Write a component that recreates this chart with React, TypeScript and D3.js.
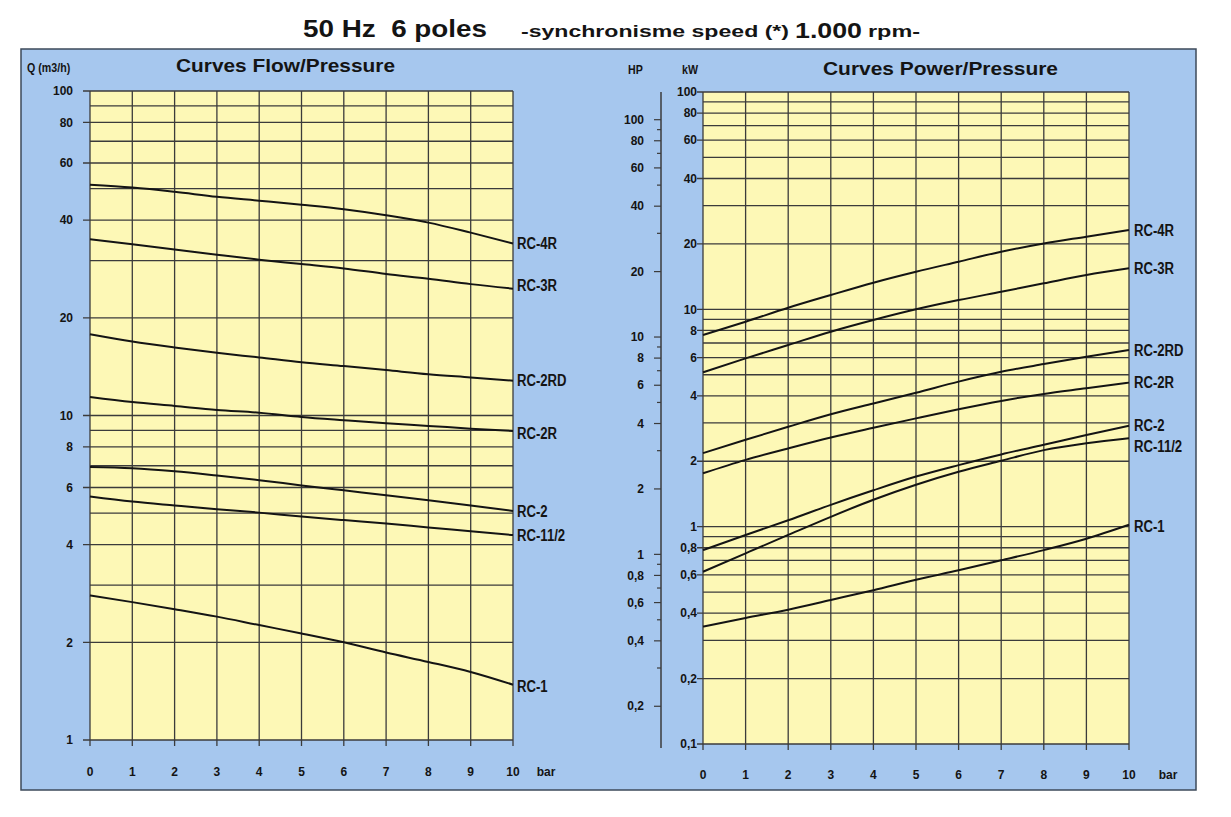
import React from "react";
import * as d3 from "d3";

// ---------- data ----------
const pressureBar = [0, 1, 2, 3, 4, 5, 6, 7, 8, 9, 10];
const seriesNames = ["RC-4R", "RC-3R", "RC-2RD", "RC-2R", "RC-2", "RC-11/2", "RC-1"];

// Flow Q (m3/h) vs pressure (bar)
const flowRC4R = [51.4, 50.4, 48.9, 47.2, 45.9, 44.6, 43.2, 41.4, 39.3, 36.6, 33.9];
const flowRC3R = [34.9, 33.7, 32.5, 31.3, 30.2, 29.3, 28.4, 27.3, 26.4, 25.4, 24.6];
const flowRC2RD = [17.8, 16.9, 16.2, 15.6, 15.1, 14.6, 14.2, 13.8, 13.4, 13.1, 12.8];
const flowRC2R = [11.4, 11.0, 10.7, 10.4, 10.2, 9.9, 9.67, 9.46, 9.29, 9.11, 8.96];
const flowRC2 = [6.94, 6.88, 6.73, 6.53, 6.32, 6.09, 5.88, 5.68, 5.48, 5.28, 5.08];
const flowRC112 = [5.63, 5.43, 5.28, 5.14, 5.02, 4.88, 4.76, 4.65, 4.52, 4.4, 4.28];
const flowRC1 = [2.79, 2.66, 2.53, 2.4, 2.26, 2.13, 2.0, 1.86, 1.74, 1.62, 1.48];

// Power (kW) vs pressure (bar)
const powerRC4R = [7.62, 8.77, 10.17, 11.64, 13.26, 14.89, 16.56, 18.41, 20.1, 21.6, 23.2];
const powerRC3R = [5.13, 5.95, 6.85, 7.89, 8.93, 10.0, 11.03, 12.05, 13.17, 14.38, 15.44];
const powerRC2RD = [2.18, 2.51, 2.88, 3.29, 3.69, 4.13, 4.65, 5.16, 5.6, 6.05, 6.5];
const powerRC2R = [1.76, 2.03, 2.29, 2.57, 2.85, 3.15, 3.47, 3.79, 4.08, 4.33, 4.6];
const powerRC2 = [0.78, 0.916, 1.07, 1.26, 1.47, 1.7, 1.92, 2.15, 2.38, 2.64, 2.91];
const powerRC112 = [0.62, 0.754, 0.916, 1.11, 1.33, 1.56, 1.79, 2.01, 2.25, 2.42, 2.55];
const powerRC1 = [0.347, 0.38, 0.415, 0.46, 0.51, 0.57, 0.63, 0.7, 0.78, 0.88, 1.02];

// tick labels
const flowTickLabels = [100, 80, 60, 40, 20, 10, 8, 6, 4, 2, 1];
const kwTickLabels = [100, 80, 60, 40, 20, 10, 8, 6, 4, 2, 1, 0.8, 0.6, 0.4, 0.2, 0.1];
const hpTickLabels = [100, 80, 60, 40, 20, 10, 8, 6, 4, 2, 1, 0.8, 0.6, 0.4, 0.2];
const barTicks = [0, 1, 2, 3, 4, 5, 6, 7, 8, 9, 10];

const flowSeries = [flowRC4R, flowRC3R, flowRC2RD, flowRC2R, flowRC2, flowRC112, flowRC1];
const powerSeries = [powerRC4R, powerRC3R, powerRC2RD, powerRC2R, powerRC2, powerRC112, powerRC1];

// ---------- styling ----------
const FONT = "'Liberation Sans', Arial, Helvetica, sans-serif";
const BLUE = "#a6c7ee";
const YELLOW = "#fdf8b6";
const GRID = "#3b3b3b";
const INK = "#141414";
const KW_PER_HP = 0.7457;

const fmt = (v: number) => String(v).replace(".", ",");

// condensed text (no narrow font installed): horizontal squeeze
function Narrow(props: { x: number; y: number; size: number; sx?: number; anchor?: string; children: React.ReactNode }) {
  const { x, y, size, sx = 0.82, anchor = "start", children } = props;
  return (
    <text
      transform={`translate(${x},${y}) scale(${sx},1)`}
      dy="0.35em"
      fontSize={size}
      fontWeight="bold"
      textAnchor={anchor}
      fill={INK}
    >
      {children}
    </text>
  );
}

export default function App() {
  const xL = d3.scaleLinear().domain([0, 10]).range([90, 513]);
  const yL = d3.scaleLog().domain([1, 100]).range([740, 91]);
  const xR = d3.scaleLinear().domain([0, 10]).range([703, 1129]);
  const yR = d3.scaleLog().domain([0.1, 100]).range([744, 92]);
  const yHP = (hp: number) => yR(hp * KW_PER_HP);
  const hpTicks = d3
    .scaleLog()
    .domain([0.1 / KW_PER_HP, 100 / KW_PER_HP])
    .ticks()
    .filter((v) => v >= 0.2 - 1e-9 && v <= 100 + 1e-9);

  const lineL = d3
    .line<number>()
    .x((_, i) => xL(pressureBar[i]))
    .y((d) => yL(d))
    .curve(d3.curveMonotoneX);
  const lineR = d3
    .line<number>()
    .x((_, i) => xR(pressureBar[i]))
    .y((d) => yR(d))
    .curve(d3.curveMonotoneX);

  const leftLabelDy: Record<string, number> = { "RC-3R": -3, "RC-2R": 2, "RC-1": 2 };
  const rightLabelDy: Record<string, number> = { "RC-11/2": 8, "RC-1": 2 };

  const lGridY = yL.ticks();
  const rGridY = yR.ticks();

  return (
    <svg
      width={1231}
      height={817}
      style={{ position: "absolute", left: 0, top: 0, background: "#ffffff" }}
      fontFamily={FONT}
    >
      {/* Title */}
      <text x={303} y={37} fontSize={24} fontWeight="bold" fill={INK} textLength={184} lengthAdjust="spacingAndGlyphs" xmlSpace="preserve">
        50 Hz  6 poles
      </text>
      <text x={521} y={37} fontSize={17} fontWeight="bold" fill={INK} textLength={268} lengthAdjust="spacingAndGlyphs">
        -synchronisme speed (*)
      </text>
      <text x={795} y={38} fontSize={22} fontWeight="bold" fill={INK} textLength={67} lengthAdjust="spacingAndGlyphs">
        1.000
      </text>
      <text x={868} y={37} fontSize={16} fontWeight="bold" fill={INK} textLength={52} lengthAdjust="spacingAndGlyphs">
        rpm-
      </text>

      {/* Blue board */}
      <rect x={21} y={49} width={1175} height={741} fill={BLUE} stroke="#3d4a5a" strokeWidth={1.5} />

      {/* ---------------- Left panel ---------------- */}
      <Narrow x={27} y={67} size={13}>Q (m3/h)</Narrow>
      <text x={176} y={72} fontSize={18} fontWeight="bold" fill={INK} textLength={219} lengthAdjust="spacingAndGlyphs">
        Curves Flow/Pressure
      </text>
      <rect x={xL(0)} y={yL(100)} width={xL(10) - xL(0)} height={yL(1) - yL(100)} fill={YELLOW} />
      {lGridY.map((v) => {
        const labeled = flowTickLabels.includes(v);
        return (
          <line
            key={"lgy" + v}
            x1={labeled ? xL(0) - 7 : xL(0)}
            x2={xL(10)}
            y1={yL(v)}
            y2={yL(v)}
            stroke={GRID}
            strokeWidth={1.3}
          />
        );
      })}
      {barTicks.map((b) => (
        <line key={"lgx" + b} x1={xL(b)} x2={xL(b)} y1={yL(100)} y2={yL(1) + 6} stroke={GRID} strokeWidth={1.3} />
      ))}
      {flowTickLabels.map((v) => (
        <text key={"lt" + v} x={73} y={yL(v)} dy="0.35em" fontSize={12} fontWeight="bold" textAnchor="end" fill={INK}>
          {fmt(v)}
        </text>
      ))}
      {barTicks.map((b) => (
        <text key={"lbx" + b} x={xL(b)} y={776} fontSize={12} fontWeight="bold" textAnchor="middle" fill={INK}>
          {b}
        </text>
      ))}
      <text x={546} y={776} fontSize={12} fontWeight="bold" textAnchor="middle" fill={INK}>
        bar
      </text>
      {flowSeries.map((s, i) => (
        <path key={"lc" + i} d={lineL(s) || ""} fill="none" stroke={INK} strokeWidth={2} />
      ))}
      {flowSeries.map((s, i) => (
        <Narrow key={"ll" + i} x={517} y={yL(s[s.length - 1]) + (leftLabelDy[seriesNames[i]] || 0)} size={16}>
          {seriesNames[i]}
        </Narrow>
      ))}

      {/* ---------------- Right panel ---------------- */}
      <Narrow x={628} y={69} size={13}>HP</Narrow>
      <Narrow x={682} y={69} size={13}>kW</Narrow>
      <text x={823} y={75} fontSize={18} fontWeight="bold" fill={INK} textLength={235} lengthAdjust="spacingAndGlyphs">
        Curves Power/Pressure
      </text>

      {/* HP axis */}
      <line x1={661} x2={661} y1={92} y2={748} stroke={GRID} strokeWidth={1.5} />
      {hpTicks.map((v) => {
        const labeled = hpTickLabels.some((t) => Math.abs(t - v) < 1e-9);
        return (
          <line key={"hpt" + v} x1={labeled ? 654 : 657} x2={661} y1={yHP(v)} y2={yHP(v)} stroke={GRID} strokeWidth={1.2} />
        );
      })}
      {hpTickLabels.map((v) => (
        <text key={"hpl" + v} x={644} y={yHP(v)} dy="0.35em" fontSize={12} fontWeight="bold" textAnchor="end" fill={INK}>
          {fmt(v)}
        </text>
      ))}

      <rect x={xR(0)} y={yR(100)} width={xR(10) - xR(0)} height={yR(0.1) - yR(100)} fill={YELLOW} />
      {rGridY.map((v) => {
        const labeled = kwTickLabels.some((t) => Math.abs(t - v) < 1e-9);
        return (
          <line
            key={"rgy" + v}
            x1={labeled ? xR(0) - 6 : xR(0)}
            x2={xR(10)}
            y1={yR(v)}
            y2={yR(v)}
            stroke={GRID}
            strokeWidth={1.3}
          />
        );
      })}
      {barTicks.map((b) => (
        <line key={"rgx" + b} x1={xR(b)} x2={xR(b)} y1={yR(100)} y2={yR(0.1) + 6} stroke={GRID} strokeWidth={1.3} />
      ))}
      {kwTickLabels.map((v) => (
        <text key={"rt" + v} x={697} y={yR(v)} dy="0.35em" fontSize={12} fontWeight="bold" textAnchor="end" fill={INK}>
          {fmt(v)}
        </text>
      ))}
      {barTicks.map((b) => (
        <text key={"rbx" + b} x={xR(b)} y={779} fontSize={12} fontWeight="bold" textAnchor="middle" fill={INK}>
          {b}
        </text>
      ))}
      <text x={1168} y={779} fontSize={12} fontWeight="bold" textAnchor="middle" fill={INK}>
        bar
      </text>
      {powerSeries.map((s, i) => (
        <path key={"rc" + i} d={lineR(s) || ""} fill="none" stroke={INK} strokeWidth={2} />
      ))}
      {powerSeries.map((s, i) => (
        <Narrow key={"rl" + i} x={1134} y={yR(s[s.length - 1]) + (rightLabelDy[seriesNames[i]] || 0)} size={16}>
          {seriesNames[i]}
        </Narrow>
      ))}
    </svg>
  );
}
